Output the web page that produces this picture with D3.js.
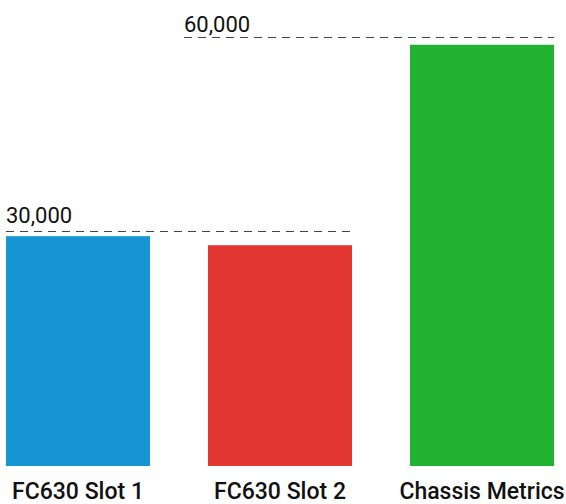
<!DOCTYPE html>
<html>
<head>
<meta charset="utf-8">
<script src="https://cdn.jsdelivr.net/npm/d3@7"></script>
<style>
  body { margin: 0; background: #fff; }
  text { font-family: Roboto, "Liberation Sans", sans-serif; fill: #111; }
</style>
</head>
<body>
<svg id="chart"></svg>
<script>
// data
const categories = ["FC630 Slot 1", "FC630 Slot 2", "Chassis Metrics"]
const values = [29200, 27800, 58800]
const colors = ["#1896d3", "#e23733", "#21b232"]
const refValues = [30000, 60000]
const refLabels = ["30,000", "60,000"]

const width = 566
const height = 504
const svg = d3.select('#chart')
    .attr("width", width)
    .attr("height", height)

const x = d3.scaleBand()
    .domain(categories)
    .range([6, 554])
    .paddingInner(0.287)

// axis doesn't start at zero in the original picture
const y = d3.scaleLinear()
    .domain([-6340, 60000])
    .range([466, 37])

// bars
svg.selectAll('rect')
    .data(categories)
    .enter().append('rect')
        .attr("x", d => x(d))
        .attr("y", (d, i) => y(values[i]))
        .attr("width", x.bandwidth())
        .attr("height", (d, i) => y.range()[0] - y(values[i]))
        .attr("fill", (d, i) => colors[i])

// category labels
svg.selectAll('.cat')
    .data(categories)
    .enter().append('text')
        .attr("class", "cat")
        .attr("x", d => x(d) + x.bandwidth() / 2)
        .attr("y", 499)
        .attr("text-anchor", "middle")
        .style("font-size", "23px")
        .style("font-weight", 500)
        .text(d => d)

// reference lines
const refStart = [x(categories[0]), x(categories[1]) - 24]
const refEnd = [x(categories[1]) + x.bandwidth(), x(categories[2]) + x.bandwidth()]
const labelGap = [8, 5]

const refs = svg.selectAll('.ref')
    .data(refValues)
    .enter().append('g')
        .attr("class", "ref")

refs.append('line')
    .attr("x1", (d, i) => refStart[i])
    .attr("x2", (d, i) => refEnd[i])
    .attr("y1", d => Math.round(y(d)) + 0.5)
    .attr("y2", d => Math.round(y(d)) + 0.5)
    .attr("stroke", "#444")
    .attr("stroke-width", 1)
    .attr("stroke-dasharray", "8,6")

refs.append('text')
    .attr("x", (d, i) => refStart[i])
    .attr("y", (d, i) => y(d) - labelGap[i])
    .style("font-size", "22px")
    .text((d, i) => refLabels[i])
</script>
</body>
</html>
